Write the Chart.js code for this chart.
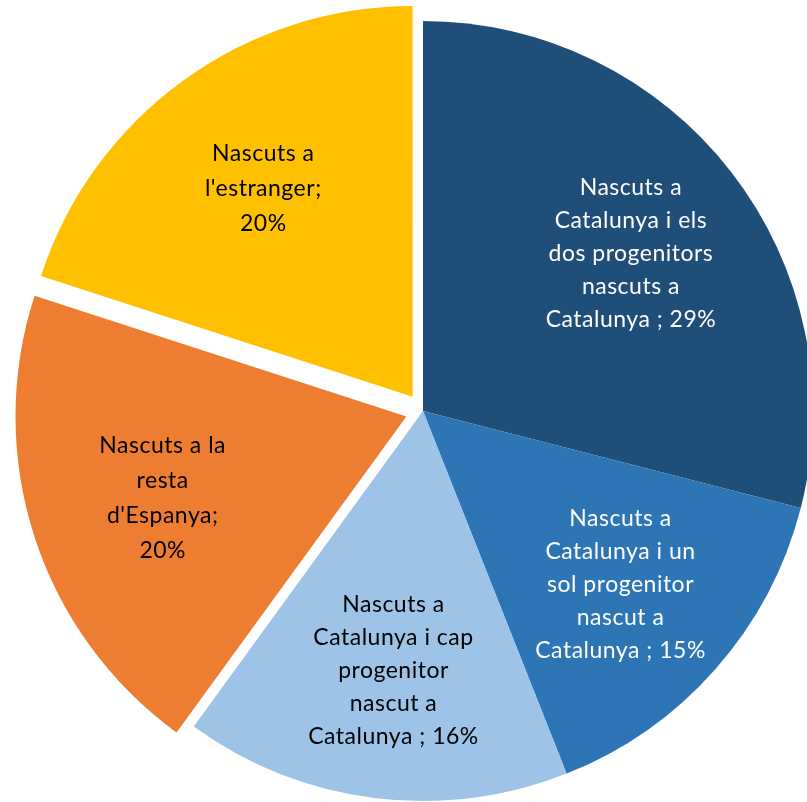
<!DOCTYPE html>
<html>
<head>
<meta charset="utf-8">
<script src="https://cdn.jsdelivr.net/npm/chart.js@4.4.1/dist/chart.umd.min.js"></script>
<style>
  html, body { margin: 0; padding: 0; background: #fff; overflow: hidden; }
</style>
</head>
<body>
<canvas id="myChart" width="807" height="802"></canvas>
<script>
// label text per slice (already split the way the original wraps it)
const categories = [
  ['Nascuts a', 'Catalunya i els', 'dos progenitors', 'nascuts a', 'Catalunya '],
  ['Nascuts a', 'Catalunya i un', 'sol progenitor', 'nascut a', 'Catalunya '],
  ['Nascuts a', 'Catalunya i cap', 'progenitor', 'nascut a', 'Catalunya '],
  ['Nascuts a la', 'resta', "d'Espanya"],
  ['Nascuts a', "l'estranger"]
];
const values = [29, 15, 16, 20, 20];
const percentOnOwnLine = [false, false, false, true, true];

const chartColors = {
  darkBlue: 'rgb(31, 78, 121)',
  blue: 'rgb(46, 117, 182)',
  lightBlue: 'rgb(157, 195, 230)',
  orange: 'rgb(237, 125, 49)',
  yellow: 'rgb(255, 192, 0)'
};
const textColors = ['#ffffff', '#ffffff', '#000000', '#000000', '#000000'];

const labelLines = (i) => {
  const lines = categories[i].slice();
  const last = lines.length - 1;
  if (percentOnOwnLine[i]) {
    lines[last] += ';';
    lines.push(values[i] + '%');
  } else {
    lines[last] += '; ' + values[i] + '%';
  }
  return lines;
};

// writes the labels inside each slice, along its middle angle
const sliceLabels = {
  id: 'sliceLabels',
  afterDatasetsDraw(chart) {
    const ctx = chart.ctx;
    const meta = chart.getDatasetMeta(0);
    meta.data.forEach((arc, i) => {
      const p = arc.getProps(['x', 'y', 'startAngle', 'endAngle', 'outerRadius'], true);
      const mid = (p.startAngle + p.endAngle) / 2;
      const shift = (arc.options.offset || 0) / 4;
      const r = shift + p.outerRadius * 0.665;
      const cx = p.x + Math.cos(mid) * r + 3;
      const cy = p.y + Math.sin(mid) * r + 2;
      const lines = labelLines(i);
      const lh = lines.length > 4 ? 33 : 35;
      ctx.save();
      ctx.font = '23px Lato';
      ctx.letterSpacing = '0.5px';
      ctx.fillStyle = textColors[i];
      ctx.textAlign = 'center';
      ctx.textBaseline = 'middle';
      lines.forEach((t, k) => {
        ctx.fillText(t, cx, cy + (k - (lines.length - 1) / 2) * lh);
      });
      ctx.restore();
    });
  }
};

var ctx = document.getElementById('myChart').getContext('2d');
var myChart = new Chart(ctx, {
  type: 'pie',
  data: {
    labels: categories.map(c => c.join(' ').trim()),
    datasets: [{
      data: values,
      backgroundColor: [
        chartColors.darkBlue,
        chartColors.blue,
        chartColors.lightBlue,
        chartColors.orange,
        chartColors.yellow
      ],
      borderWidth: 0,
      offset: [0, 0, 0, 70, 70],
      clip: false
    }]
  },
  options: {
    responsive: false,
    animation: false,
    radius: 390,
    layout: {
      padding: { left: 39, top: 20, right: 0, bottom: 0 }
    },
    plugins: {
      legend: { display: false },
      tooltip: { enabled: false }
    }
  },
  plugins: [sliceLabels]
});
</script>
</body>
</html>
